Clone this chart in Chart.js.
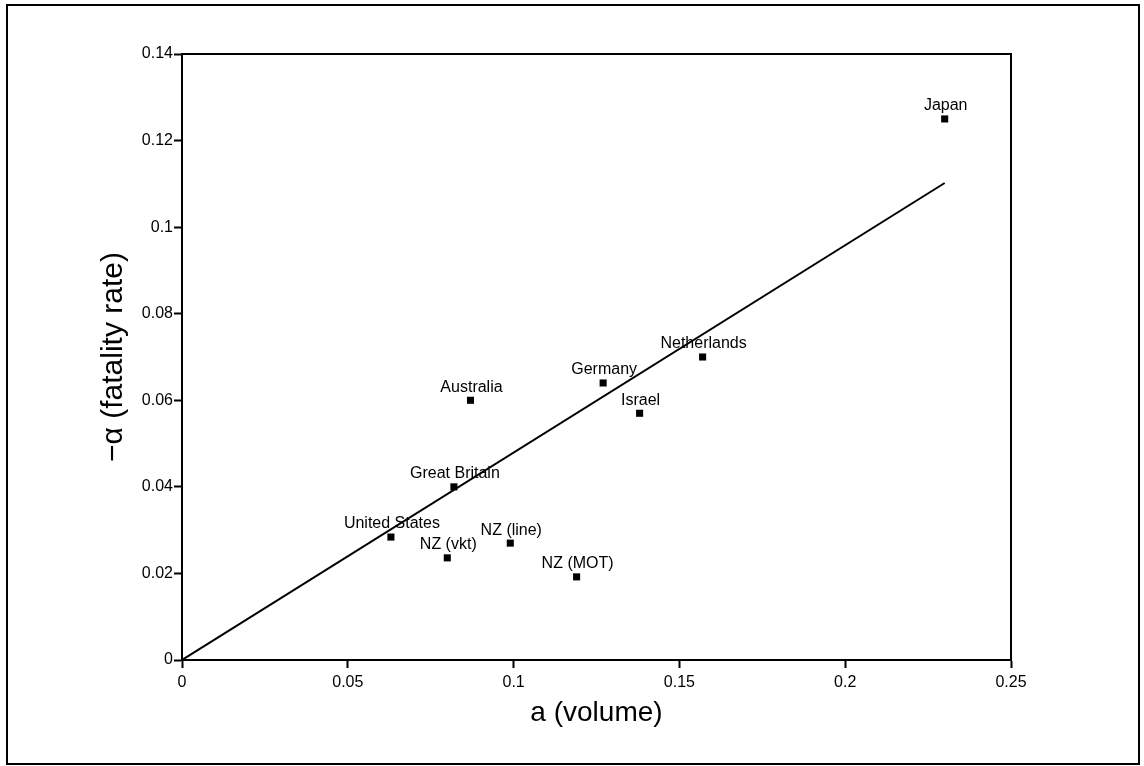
<!DOCTYPE html>
<html>
<head>
<meta charset="utf-8">
<script src="https://cdn.jsdelivr.net/npm/chart.js@4"></script>
<style>
  html, body { margin: 0; padding: 0; background: #fff; }
  #wrap { width: 1144px; height: 766px; }
</style>
</head>
<body>
<div id="wrap"><canvas id="chart" width="1144" height="766"></canvas></div>
<script>
// Country points: a (volume) vs -alpha (fatality rate)
const countries = ["Japan", "Netherlands", "Germany", "Israel", "Australia",
  "Great Britain", "United States", "NZ (vkt)", "NZ (line)", "NZ (MOT)"];
const volume = [0.230, 0.157, 0.127, 0.138, 0.087, 0.082, 0.063, 0.080, 0.099, 0.119];
const fatality = [0.125, 0.070, 0.064, 0.057, 0.060, 0.040, 0.0284, 0.0236, 0.027, 0.0192];

// Fitted line through the origin
const fitX = [0, 0.23];
const fitY = [0, 0.1102];

// Tick labels
const xTicks = ["0", "0.05", "0.1", "0.15", "0.2", "0.25"];
const yTicks = ["0", "0.02", "0.04", "0.06", "0.08", "0.1", "0.12", "0.14"];

Chart.defaults.font.family = "'Liberation Sans', Arial, Helvetica, sans-serif";
Chart.defaults.color = "#000";

const pointData = volume.map((v, i) => ({ x: v, y: fatality[i] }));
const lineData = fitX.map((v, i) => ({ x: v, y: fitY[i] }));

// frame around the whole figure + box around the plot
const framePlugin = {
  id: "frame",
  afterDraw(chart) {
    const { ctx, chartArea } = chart;
    ctx.save();
    ctx.strokeStyle = "#000";
    ctx.lineWidth = 2;
    ctx.strokeRect(7, 5, 1132, 759);
    ctx.strokeRect(chartArea.left, chartArea.top,
      chartArea.right - chartArea.left, chartArea.bottom - chartArea.top);
    ctx.restore();
  },
};

// country names above their markers
const labelPlugin = {
  id: "pointLabels",
  afterDatasetsDraw(chart) {
    const { ctx } = chart;
    const meta = chart.getDatasetMeta(0);
    ctx.save();
    ctx.font = "16px 'Liberation Sans', Arial, sans-serif";
    ctx.fillStyle = "#000";
    ctx.textAlign = "center";
    ctx.textBaseline = "middle";
    meta.data.forEach((pt, i) => {
      ctx.fillText(countries[i], pt.x + 1, pt.y - 13);
    });
    ctx.restore();
  },
};

new Chart(document.getElementById("chart"), {
  type: "scatter",
  data: {
    datasets: [
      {
        label: "countries",
        data: pointData,
        pointStyle: "rect",
        pointRadius: 5,
        pointHoverRadius: 5,
        backgroundColor: "#000",
        borderColor: "#000",
        borderWidth: 0,
      },
      {
        type: "line",
        label: "fit",
        data: lineData,
        borderColor: "#000",
        borderWidth: 2,
        pointRadius: 0,
        fill: false,
        tension: 0,
      },
    ],
  },
  options: {
    responsive: false,
    animation: false,
    layout: { padding: { top: 54, right: 133, left: 0, bottom: 0 } },
    plugins: {
      legend: { display: false },
      tooltip: { enabled: false },
    },
    scales: {
      x: {
        type: "linear",
        min: 0,
        max: 0.25,
        afterFit: (scale) => { scale.height = 106; },
        afterBuildTicks: (scale) => {
          scale.ticks = xTicks.map((t) => ({ value: parseFloat(t) }));
        },
        ticks: {
          callback: (value, i) => xTicks[i],
          font: { size: 16 },
          padding: 5,
          maxRotation: 0,
        },
        grid: {
          drawOnChartArea: false,
          drawTicks: true,
          tickLength: 8,
          tickWidth: 2,
          color: "#000",
        },
        border: { display: true, color: "#000", width: 2 },
        title: {
          display: true,
          text: "a (volume)",
          font: { size: 28 },
          color: "#000",
          padding: 36,
        },
      },
      y: {
        type: "linear",
        min: 0,
        max: 0.14,
        afterFit: (scale) => { scale.width = 182; },
        afterBuildTicks: (scale) => {
          scale.ticks = yTicks.map((t) => ({ value: parseFloat(t) }));
        },
        ticks: {
          callback: (value, i) => yTicks[i],
          font: { size: 16 },
          padding: 1,
        },
        grid: {
          drawOnChartArea: false,
          drawTicks: true,
          tickLength: 8,
          tickWidth: 2,
          color: "#000",
        },
        border: { display: true, color: "#000", width: 2 },
        title: {
          display: true,
          text: "\u2212\u03b1 (fatality rate)",
          font: { size: 30 },
          color: "#000",
          padding: 96,
        },
      },
    },
  },
  plugins: [framePlugin, labelPlugin],
});
</script>
</body>
</html>
